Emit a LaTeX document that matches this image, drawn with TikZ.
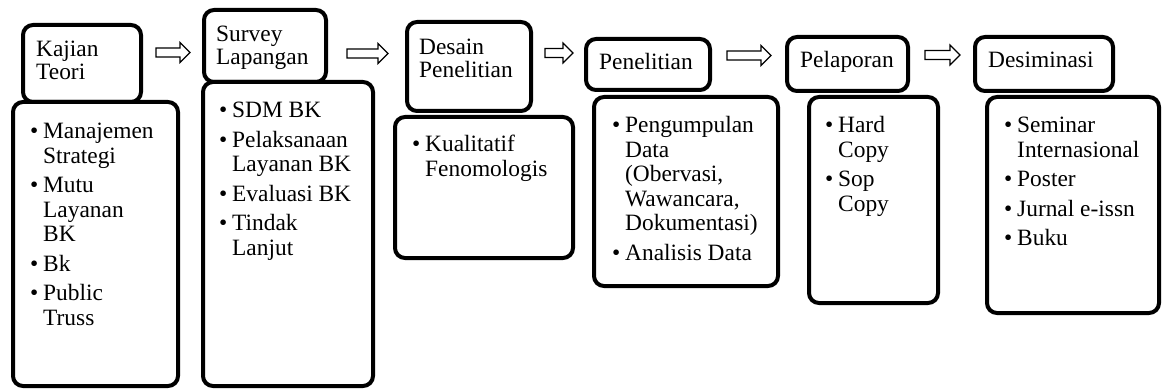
\documentclass[tikz,border=0pt]{standalone}
\usepackage{fontspec}
\setmainfont{Liberation Serif}
\tikzset{
  headline/.style={line width=4pt, rounded corners=10pt, fill=white},
  bodyline/.style={line width=4pt, rounded corners=10pt, fill=white},
  headtext/.style={anchor=base west, inner sep=0pt, text width=140pt,
    align=left, font=\fontsize{23.4}{23}\selectfont},
  bodytext/.style={anchor=base west, inner sep=0pt,
    font=\fontsize{23.4}{24.5}\selectfont},
  blockarrow/.style={line width=1.2pt, fill=white, line join=miter}
}
\newcommand{\itm}[1]{\par\hangindent=13pt\hangafter=1
  \noindent\makebox[13pt][l]{\textbullet}#1}
\newcommand{\headBox}[5]{ \draw[headline] (#2) rectangle (#3);
  \node[headtext] (#1) at (#4) {#5}; }
\newcommand{\bodyBox}[5]{ \draw[bodyline] (#2) rectangle (#3);
  \node[bodytext] (#1) at (#4) {\begin{minipage}[t]{190pt}%
    \setlength{\parskip}{5pt}#5\end{minipage}}; }
\newcommand{\stepArrow}[4]{ \coordinate (#1) at (#2,#3);
  \draw[blockarrow] (#1) ++(0,-4.5) -- ++(#4-10,0) -- ++(0,-5.5)
    -- ++(10,10) -- ++(-10,10) -- ++(0,-5.5) -- ++(-#4+10,0) -- cycle; }

\begin{document}
\begin{tikzpicture}[x=1pt, y=-1pt]
    \useasboundingbox (0,0) rectangle (1162,390);
    \headBox{kajian}{23,25}{141,102}{36,57}{Kajian\\Teori}
    \bodyBox{kajianList}{13,102}{178,386}{30,139}{\itm{Manajemen\\Strategi}%
      \itm{Mutu\\Layanan\\BK}\itm{Bk}\itm{Public\\Truss}}
    \stepArrow{toSurvey}{156}{52.5}{34}
    \headBox{survey}{204,10}{326,82}{216,42}{Survey\\Lapangan}
    \bodyBox{surveyList}{203,82}{373,386}{219,118}{\itm{SDM BK}%
      \itm{Pelaksanaan\\Layanan BK}\itm{Evaluasi BK}\itm{Tindak\\Lanjut}}
    \stepArrow{toDesain}{347}{53.5}{41}
    \headBox{desain}{407,22}{531,111}{419,55}{Desain\\Penelitian}
    \bodyBox{desainList}{395,117}{573,258}{412,152}{\itm{Kualitatif\\Fenomologis}}
    \stepArrow{toPenelitian}{545}{53}{28}
    \headBox{penelitian}{586,39}{710,90}{599,70}{Penelitian}
    \bodyBox{penelitianList}{594,97}{778,286}{612,133}{\itm{Pengumpulan\\Data\\%
      (Obervasi,\\Wawancara,\\Dokumentasi)}\itm{Analisis Data}}
    \stepArrow{toPelaporan}{727}{55.5}{44}
    \headBox{pelaporan}{787,37}{908,91}{800,68}{Pelaporan}
    \bodyBox{pelaporanList}{809,97}{938,303}{825,133}{\itm{Hard\\Copy}\itm{Sop\\Copy}}
    \stepArrow{toDesiminasi}{925}{55}{35}
    \headBox{desiminasi}{975,37}{1113,91}{988,68}{Desiminasi}
    \bodyBox{desiminasiList}{987,97}{1159,313}{1004,133}{\itm{Seminar\\Internasional}%
      \itm{Poster}\itm{Jurnal e-issn}\itm{Buku}}
  \end{tikzpicture}
\end{document}
